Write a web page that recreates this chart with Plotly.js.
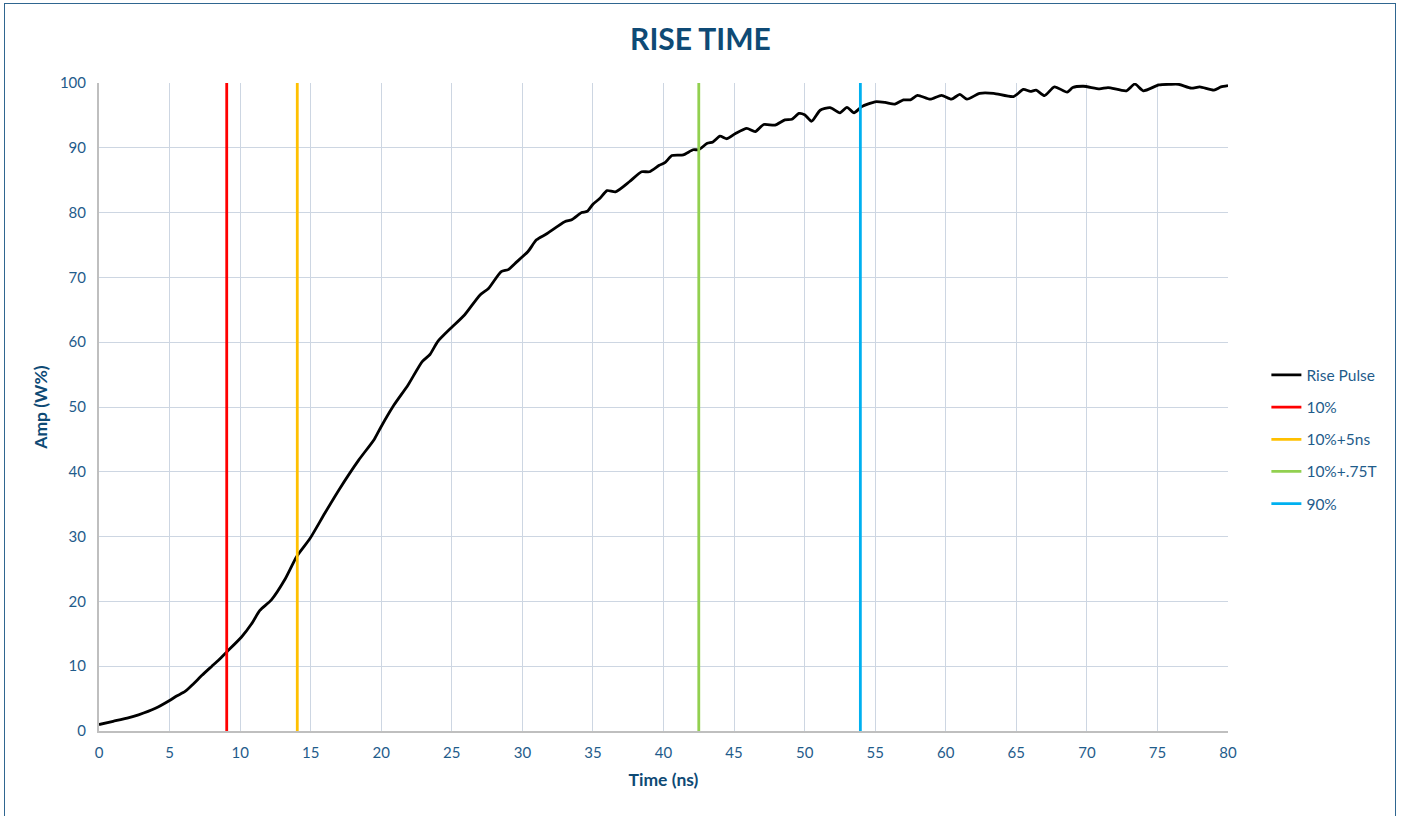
<!DOCTYPE html>
<html>
<head>
<meta charset="utf-8">
<script src="https://cdn.plot.ly/plotly-3.0.1.min.js"></script>
<style>
  html, body { margin: 0; padding: 0; background: #ffffff; }
  #wrap { position: relative; width: 1401px; height: 816px; overflow: hidden; }
  #chart { position: absolute; left: 0; top: 0; width: 1401px; height: 816px; }
  #frame { position: absolute; left: 4px; top: 3px; width: 1390px; height: 840px;
           border: 1.5px solid #2F6690; pointer-events: none; }
</style>
</head>
<body>
<div id="wrap">
  <div id="chart"></div>
  <div id="frame"></div>
</div>
<script>
// Rise pulse (time in ns, amplitude in W%)
const timeNs = [0, 1, 2, 2.8, 4, 5, 5.5, 6.1, 6.7, 7.3, 8, 8.5, 9.05, 10.1, 10.8,
  11.4, 12.2, 13.2, 14.0, 14.95, 16, 17, 18.4, 19.5, 20, 20.9, 21.9, 22.9, 23.45, 24,
  24.9, 25.9, 27, 27.6, 28.5, 29, 29.6, 30.4, 31, 31.7, 33, 33.5, 34.2, 34.6, 35,
  35.5, 36, 36.6, 37.6, 38.45, 39, 39.7, 40.1, 40.6, 41.4, 42.1, 42.5, 43.1, 43.5, 44,
  44.5, 45.1, 45.9, 46.5, 47.1, 47.9, 48.6, 49.1, 49.6, 50, 50.5, 51.1, 51.8, 52.5, 53,
  53.5, 54.05, 55, 55.7, 56.4, 57, 57.5, 58, 58.9, 59.7, 60.4, 61, 61.5, 62.4, 63.4,
  64.8, 65.5, 66, 66.4, 67, 67.7, 68.6, 69, 69.75, 70.9, 71.5, 72.8, 73.4, 74, 75.1,
  75.9, 76.5, 77.4, 78, 79, 79.5, 80];
const risePulse = [1.0, 1.5, 2.0, 2.5, 3.5, 4.7, 5.4, 6.1, 7.3, 8.6, 10.0, 11.0, 12.2, 14.5, 16.5,
  18.6, 20.2, 23.5, 26.9, 29.7, 33.6, 37.2, 41.8, 45.0, 47.0, 50.3, 53.4, 57.0, 58.1, 60.1,
  62.1, 64.2, 67.3, 68.3, 70.9, 71.2, 72.4, 74.0, 75.8, 76.7, 78.6, 78.9, 80.0, 80.2, 81.3,
  82.2, 83.4, 83.2, 84.8, 86.3, 86.3, 87.3, 87.7, 88.8, 88.9, 89.7, 89.7, 90.7, 90.9, 91.8,
  91.4, 92.2, 93.0, 92.5, 93.6, 93.5, 94.3, 94.4, 95.3, 95.1, 94.1, 95.8, 96.2, 95.4, 96.25,
  95.4, 96.35, 97.1, 97.0, 96.75, 97.4, 97.4, 98.1, 97.5, 98.1, 97.5, 98.25, 97.5, 98.4, 98.4,
  97.9, 99.0, 98.7, 98.9, 98.05, 99.4, 98.6, 99.3, 99.5, 99.1, 99.3, 98.8, 99.85, 98.8, 99.7,
  99.8, 99.8, 99.2, 99.4, 98.9, 99.4, 99.6];

// Marker lines (time in ns)
const markerNames = ['10%', '10%+5ns', '10%+.75T', '90%'];
const markerTimes = [9.05, 14.05, 42.5, 53.95];
const markerColors = ['#FF0000', '#FFC000', '#92D050', '#00B0F0'];
const ampRange = [0, 100];

const xTicks = [0, 5, 10, 15, 20, 25, 30, 35, 40, 45, 50, 55, 60, 65, 70, 75, 80];
const yTicks = [0, 10, 20, 30, 40, 50, 60, 70, 80, 90, 100];

const FONT = 'Lato, "Open Sans", "Noto Sans", sans-serif';
const TEXT_BLUE = '#1F5C8B';
const TITLE_BLUE = '#0E4A75';

const traces = [{
  type: 'scatter', mode: 'lines', name: 'Rise Pulse',
  x: timeNs, y: risePulse,
  line: { color: '#000000', width: 2.8, shape: 'spline', smoothing: 0.6 },
  legendgroup: 'g0'
}];
markerNames.forEach((n, i) => {
  traces.push({
    type: 'scatter', mode: 'lines', name: n,
    x: [markerTimes[i], markerTimes[i]], y: ampRange,
    line: { color: markerColors[i], width: 2.8 },
    legendgroup: 'g' + (i + 1)
  });
});

const layout = {
  width: 1401, height: 816,
  margin: { l: 99, r: 173, t: 83, b: 85 },
  paper_bgcolor: '#ffffff', plot_bgcolor: '#ffffff',
  font: { family: FONT, color: TEXT_BLUE, size: 15 },
  title: {
    text: '<b>RISE TIME</b>', xref: 'container', x: 0.5, xanchor: 'center',
    yref: 'container', y: 1 - 39 / 816, yanchor: 'middle',
    font: { family: FONT, size: 30, color: TITLE_BLUE }
  },
  showlegend: true,
  legend: {
    x: 1.034, xanchor: 'left', y: 0.45, yanchor: 'middle',
    font: { family: FONT, size: 15.5, color: TEXT_BLUE },
    tracegroupgap: 9, bgcolor: 'rgba(0,0,0,0)'
  },
  xaxis: {
    range: [0, 80], tickvals: xTicks, ticktext: xTicks.map(String),
    showgrid: true, gridcolor: '#CDD6E2', gridwidth: 1,
    showline: true, linecolor: '#BFBFBF', linewidth: 2,
    zeroline: false, ticks: '', ticklabelstandoff: 7,
    tickfont: { family: FONT, size: 15, color: TEXT_BLUE },
    title: { text: '<b>Time (ns)</b>', standoff: 14, font: { family: FONT, size: 17.5, color: TITLE_BLUE } }
  },
  yaxis: {
    range: [0, 100], tickvals: yTicks, ticktext: yTicks.map(String),
    showgrid: true, gridcolor: '#CDD6E2', gridwidth: 1,
    showline: true, linecolor: '#BFBFBF', linewidth: 2,
    zeroline: false, ticks: '', ticklabelstandoff: 8,
    tickfont: { family: FONT, size: 15, color: TEXT_BLUE },
    title: { text: '<b>Amp (W%)</b>', standoff: 8, font: { family: FONT, size: 17.5, color: TITLE_BLUE } }
  }
};

Plotly.newPlot('chart', traces, layout, { displayModeBar: false, staticPlot: true });
</script>
</body>
</html>
